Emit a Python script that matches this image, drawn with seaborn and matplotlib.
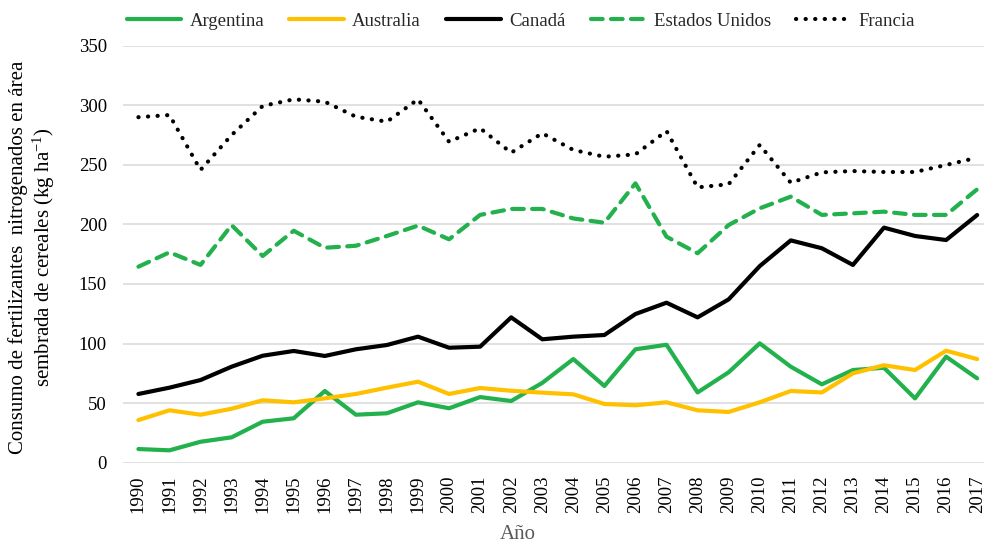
import matplotlib
matplotlib.use("Agg")
import matplotlib.pyplot as plt
import pandas as pd
import seaborn as sns

# ---------------------------------------------------------------------------
# Data (kg N per ha of cereal area)
# ---------------------------------------------------------------------------
years = list(range(1990, 2018))
countries = ["Argentina", "Australia", "Canadá", "Estados Unidos", "Francia"]

argentina = [11.5, 10.4, 17.6, 21.3, 34.4, 37.3, 60.2, 40.3, 41.5, 50.7,
             45.7, 55.1, 51.8, 67.0, 87.0, 64.4, 95.2, 99.0, 59.0, 75.9,
             100.2, 80.6, 65.8, 77.8, 79.7, 54.0, 89.0, 70.8]
australia = [35.8, 44.0, 40.3, 45.3, 52.4, 50.7, 54.0, 57.7, 63.0, 68.0,
             57.7, 62.7, 60.4, 58.8, 57.4, 49.3, 48.2, 50.7, 44.0, 42.6,
             50.7, 60.2, 59.0, 75.0, 81.8, 77.8, 94.0, 87.0]
canada = [57.7, 63.0, 69.4, 80.6, 89.8, 93.8, 89.6, 95.2, 98.8, 105.8,
          96.5, 97.4, 122.0, 103.6, 105.8, 107.2, 124.8, 134.3, 122.0, 137.1,
          165.0, 186.6, 180.0, 166.0, 197.3, 190.3, 186.9, 207.9]
estados_unidos = [164.5, 176.6, 166.0, 199.4, 173.5, 194.7, 180.4, 182.1, 190.3, 199.0,
                  187.5, 208.0, 213.0, 213.0, 205.0, 201.4, 234.5, 189.7, 175.8, 199.5,
                  213.5, 223.3, 208.0, 209.3, 210.7, 208.0, 208.0, 229.5]
francia = [290.0, 291.8, 245.7, 275.0, 299.4, 305.0, 303.0, 290.4, 286.2, 305.0,
           269.4, 280.7, 260.2, 276.5, 262.5, 256.8, 258.8, 278.4, 231.1, 233.7,
           266.7, 235.0, 243.7, 244.8, 244.0, 244.0, 249.9, 256.0]

y_ticks = [0, 50, 100, 150, 200, 250, 300, 350]

# ---------------------------------------------------------------------------
# Style
# ---------------------------------------------------------------------------
FS = 13.5
sns.set_theme(style="white")
plt.rcParams.update({
    "font.family": ["Liberation Serif", "DejaVu Serif"],
    "mathtext.fontset": "custom",
    "mathtext.rm": "Liberation Serif",
    "mathtext.it": "Liberation Serif:italic",
    "font.size": FS,
    "xtick.labelsize": FS,
    "ytick.labelsize": FS,
    "legend.fontsize": FS,
    "lines.solid_capstyle": "round",
    "lines.dash_capstyle": "round",
    "lines.solid_joinstyle": "round",
    "lines.dash_joinstyle": "round",
})

palette = {
    "Argentina": "#22B14C",
    "Australia": "#FFC000",
    "Canadá": "#000000",
    "Estados Unidos": "#22B14C",
    "Francia": "#000000",
}
dashes = {
    "Argentina": "",
    "Australia": "",
    "Canadá": "",
    "Estados Unidos": (2.8, 2.0),
    "Francia": (0.05, 2.25),
}

values = [argentina, australia, canada, estados_unidos, francia]
df = pd.DataFrame({
    "anio": years * len(countries),
    "pais": [c for c in countries for _ in years],
    "valor": [v for serie in values for v in serie],
})

# ---------------------------------------------------------------------------
# Figure
# ---------------------------------------------------------------------------
fig = plt.figure(figsize=(9.84, 5.44), dpi=100)
ax = fig.add_axes([0.1255, 0.1494, 1 - 0.1255, 0.7666])

sns.lineplot(
    data=df, x="anio", y="valor", hue="pais", style="pais",
    hue_order=countries, style_order=countries,
    palette=palette, dashes=dashes, linewidth=3,
    errorbar=None, legend=False, ax=ax,
)

ax.set_xlim(1989.52, 2017.22)
ax.set_ylim(0, 350)
ax.set_xticks(years)
ax.set_xticklabels([str(y) for y in years], rotation=90)
ax.set_yticks(y_ticks)
ax.set_yticklabels([str(t) for t in y_ticks])
ax.tick_params(axis="x", length=0, pad=9.5, colors="#000000")
ax.tick_params(axis="y", length=0, pad=12, colors="#000000")
ax.grid(axis="y", color="#D9D9D9", linewidth=1.1)
ax.grid(axis="x", visible=False)
ax.set_axisbelow(True)
ax.set_xlabel("")
ax.set_ylabel("")
for side in ["top", "right", "left", "bottom"]:
    ax.spines[side].set_visible(False)

fig.text(
    33 / 984, 1 - 257 / 544,
    "Consumo de fertilizantes  nitrogenados en área\n"
    r"sembrada de cereales (kg ha$^{\mathregular{-1}}$)",
    rotation=90, ha="center", va="center", multialignment="center",
    linespacing=1.15, color="#000000", fontsize=15,
)
fig.text(517.5 / 984, 5 / 544, "Año", ha="center", va="baseline",
         color="#595959", fontsize=15)

handles = ax.get_lines()[:len(countries)]
fig.legend(
    handles, countries, loc="center", bbox_to_anchor=(521 / 984, 1 - 21 / 544),
    ncol=5, frameon=False, handlelength=2.9, handletextpad=0.45,
    columnspacing=1.35, borderaxespad=0,
)

fig.savefig("out.png", dpi=100)
plt.close(fig)
